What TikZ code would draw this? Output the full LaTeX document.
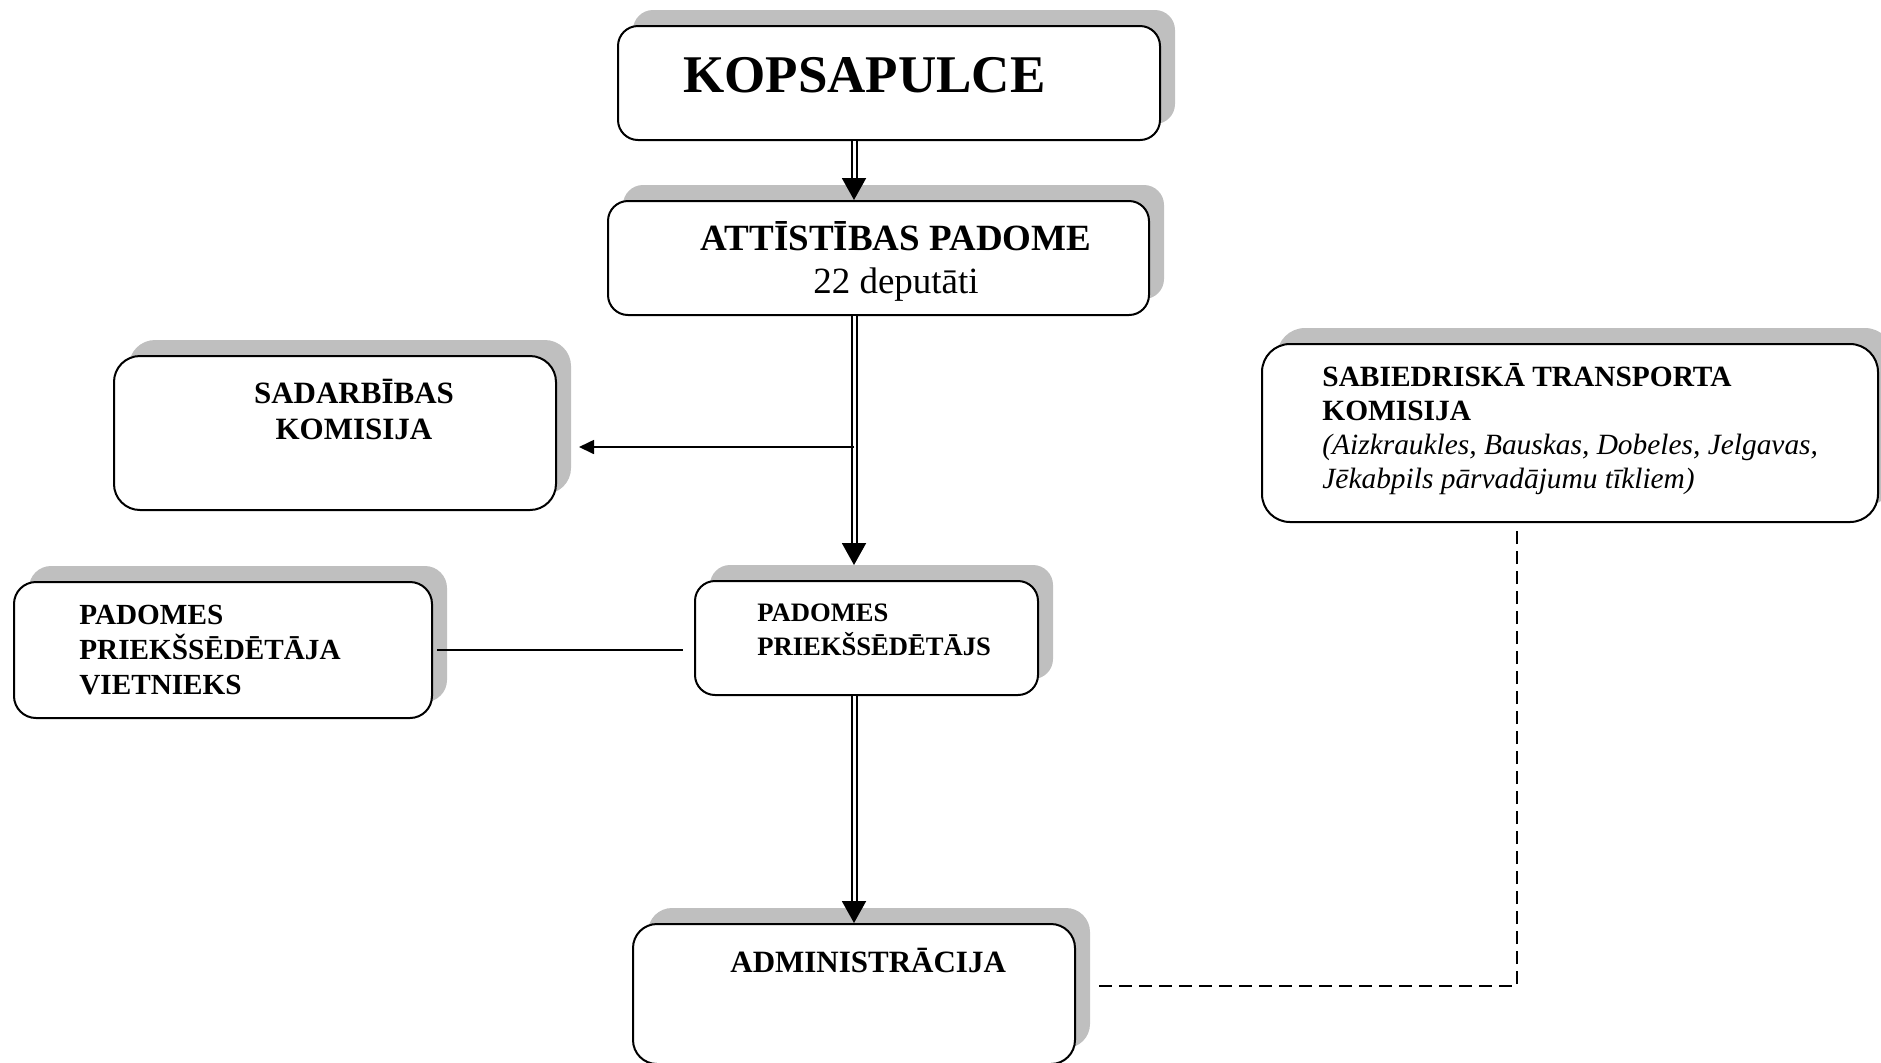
\documentclass[tikz,border=0pt]{standalone}
\usepackage{fontspec}
\setmainfont{Liberation Serif}
\usetikzlibrary{arrows.meta,shadows,calc}
\begin{document}
\begin{tikzpicture}[x=0.5pt,y=-0.5pt,
  box/.style={draw,line width=1pt,fill=white,inner sep=0pt,
    drop shadow={shadow xshift=7.5pt,shadow yshift=8pt,fill=black!25,opacity=1}},
  lbl/.style={inner sep=0pt,font=\bfseries\fontsize{15}{17.5}\selectfont},
  dbl/.style={double,double distance=1.5pt,line width=1pt,-{Triangle[width=12pt,length=11pt]}},
  arr/.style={line width=0.85pt,-{Triangle[width=7pt,length=7.5pt]}}]
\useasboundingbox (0,0) rectangle (1881,1062);
\foreach \n/\x/\y/\w/\h/\r in {kop/889/83/271/57/10,att/878.5/258/270.5/57/10,
    sad/335/433/221/77/13,vie/223/650/209/68/11,pri/866.5/638/171.5/57/10,
    adm/854/994/221/70/12,sab/1570/433/308/89/14}
  \node[box,rounded corners=\r pt,minimum width=\w pt,minimum height=\h pt] (\n) at (\x,\y) {};
\node[lbl,anchor=base west,font=\bfseries\fontsize{26.5}{30}\selectfont] (kopt) at (683,92) {KOPSAPULCE};
\node[lbl,anchor=base,align=center,font=\bfseries\fontsize{18.5}{21.5}\selectfont] (attt) at (896,293)
  {ATTĪSTĪBAS PADOME\\{\mdseries 22 deputāti}};
\node[lbl,anchor=base,align=center,font=\bfseries\fontsize{15.5}{18}\selectfont] (sadt) at (354,439) {SADARBĪBAS\\KOMISIJA};
\node[lbl,anchor=base west,align=left,font=\bfseries\fontsize{14.6}{17.5}\selectfont] (viet) at (79,694)
  {PADOMES\\PRIEKŠSĒDĒTĀJA\\VIETNIEKS};
\node[lbl,anchor=base west,align=left,font=\bfseries\fontsize{13.3}{17}\selectfont] (prit) at (757,655)
  {PADOMES\\PRIEKŠSĒDĒTĀJS};
\node[lbl,anchor=base west,font=\bfseries\fontsize{15.5}{18}\selectfont] (admt) at (730,972) {ADMINISTRĀCIJA};
\node[lbl,anchor=base west,align=left,font=\bfseries\fontsize{14.7}{17}\selectfont] (sabt) at (1322,488)
  {SABIEDRISKĀ TRANSPORTA\\KOMISIJA\\{\mdseries\itshape (Aizkraukles, Bauskas, Dobeles, Jelgavas,}\\
   {\mdseries\itshape Jēkabpils pārvadājumu tīkliem)}};
\coordinate (spine) at (854,0);
\coordinate (br) at (854,447);
\draw[dbl] (spine |- kop.south) -- (spine |- att.north);
\draw[dbl,shorten >=7.5pt] (spine |- att.south) -- (spine |- pri.north);
\draw[dbl] (spine |- pri.south) -- (spine |- adm.north);
\draw[arr,shorten >=11pt] (br) -- (br -| sad.east);
\draw[line width=0.7pt,shorten <=2pt,shorten >=5.5pt] (vie.east) -- (vie.east -| pri.west);
\draw[line width=1.1pt,dash pattern=on 6.5pt off 3.5pt] ($(adm.east)+(23,-8)$) -| ($(sab.south)+(-53,8)$);
\end{tikzpicture}
\end{document}
